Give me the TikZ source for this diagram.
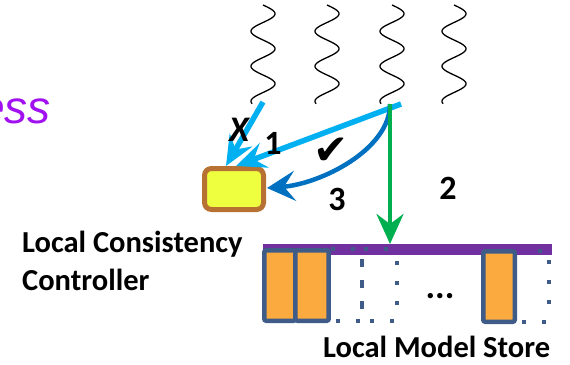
\documentclass[tikz,border=0pt]{standalone}
\usepackage{fontspec}
\setmainfont{Carlito}
\newfontfamily\symfont{DejaVu Sans}
\newfontfamily\lsans{Liberation Sans}
\usetikzlibrary{arrows.meta,calc}
\definecolor{lblue}{HTML}{00B0F0}
\definecolor{dblue}{HTML}{0070C0}
\definecolor{dgreen}{HTML}{00B050}
\definecolor{barpurple}{HTML}{7030A0}
\definecolor{storeorange}{HTML}{FBAA40}
\definecolor{slate}{HTML}{3E5C87}
\definecolor{boxyellow}{HTML}{EEFF40}
\definecolor{boxbrown}{HTML}{B77133}
\definecolor{txtpurple}{HTML}{A010F0}
\tikzset{
  squig/.style={line width=1.3pt, black},
  lb/.style={draw=lblue, line width=5.5pt, -{Stealth[length=30pt,width=26pt,inset=11pt]}},
  db/.style={draw=dblue, line width=4.5pt, -{Stealth[length=28pt,width=30pt,inset=11pt]}},
  gr/.style={draw=dgreen, line width=4pt, -{Stealth[length=30pt,width=27pt,inset=10pt]}},
  store/.style={draw=slate, line width=4.5pt, fill=storeorange, rounded corners=2pt, inner sep=0pt},
  dotline/.style={draw=slate, line width=4pt, dash pattern=on 4pt off 16pt},
  dashline/.style={draw=slate, line width=4pt, dash pattern=on 8pt off 13pt},
  lbl/.style={font=\bfseries\fontsize{34}{34}\selectfont, inner sep=0pt},
  bigtxt/.style={font=\bfseries\fontsize{30.5}{25}\selectfont, inner sep=0pt, anchor=base west},
}
\begin{document}
\begin{tikzpicture}[x=1pt,y=-1pt]
\useasboundingbox (0,0) rectangle (570,364);
\clip (0,0) rectangle (570,364);
% purple cut-off text
\node[anchor=base west, inner sep=0pt, text=txtpurple, font=\lsans\itshape\fontsize{46}{46}\selectfont] (ess) at (-21,123) {ess};
% squiggles
\foreach \cx in {263,327,392,454}{
  \draw[squig] plot[domain=0:2.82,samples=120,smooth] ({\cx+12*sin(\x*360)},{5+35*\x});
}
\coordinate (w1) at (263,102);
\coordinate (w3) at (401,104);
\coordinate (w3c) at (390,104);
% local consistency controller box
\node[draw=boxbrown, line width=5pt, fill=boxyellow, rounded corners=7pt, minimum width=59pt, minimum height=41pt, inner sep=0pt] (lcc) at (234,189) {};
\coordinate (tx) at (226,166);
\coordinate (t1) at (236,166);
\coordinate (t3) at (267,188);
% store
\node[fill=barpurple, minimum width=289pt, minimum height=11pt, inner sep=0pt, anchor=north west] (bar) at (263,244) {};
\draw[dotline] (331,249) -- (362,249);
\draw[dotline] (364,249) -- (397,249);
\draw[dotline] (336,321) -- (362,321);
\draw[dotline] (370,321) -- (397,321);
\draw[dashline] (362,259) -- (362,312);
\draw[dotline] (397,261) -- (397,312);
\draw[dotline] (538,251) -- (549,251);
\draw[dotline] (549,260) -- (549,312);
\draw[dotline] (522,322) -- (549,322);
\node[store, minimum width=31.25pt, minimum height=70.5pt] (r1) at (279.9,285.5) {};
\node[store, minimum width=33.25pt, minimum height=70.5pt] (r2) at (312.1,285.5) {};
\node[store, minimum width=31.5pt, minimum height=70.5pt] (r3) at (499,286.5) {};
\node[font=\bfseries\fontsize{36}{36}\selectfont, inner sep=0pt] (dots) at (440,296) {...};
% arrows
\draw[lb] (w1) -- (tx);
\draw[lb] (w3) -- (t1);
\draw[db] (w3c) .. controls (390,150) and (320,184) .. (t3);
\draw[gr] (w3c) -- (w3c |- bar.north);
% labels
\node[lbl, font=\bfseries\itshape\fontsize{36}{36}\selectfont] (lx) at (239,130) {X};
\node[lbl] (l1) at (273,143) {1};
\node[lbl, font=\symfont\fontsize{42}{42}\selectfont] (lck) at (331,151) {✔};
\node[lbl] (l3) at (337,199) {3};
\node[lbl] (l2) at (448,188) {2};
% texts
\node[bigtxt] (lcc1) at (22,252) {Local Consistency};
\node[bigtxt] (lcc2) at (22,290) {Controller};
\node[bigtxt] (lms) at (323,357) {Local Model Store};
\end{tikzpicture}
\end{document}
